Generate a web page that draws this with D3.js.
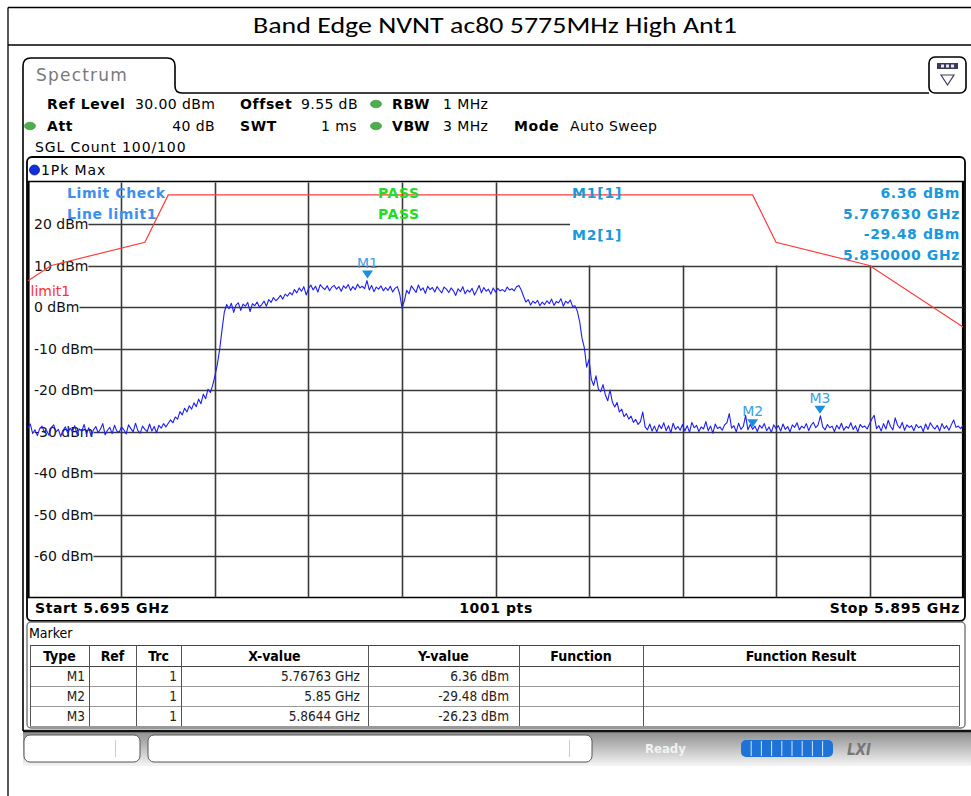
<!DOCTYPE html>
<html><head><meta charset="utf-8">
<script src="https://cdn.jsdelivr.net/npm/d3@7"></script>
<style>
html,body{margin:0;padding:0;background:#fff;}
svg{display:block;}
text{font-family:"DejaVu Sans",Verdana,sans-serif;}
</style></head><body>
<svg id="c" width="971" height="796"></svg>
<script>
// ---------------- DATA ----------------
const titleText = "Band Edge NVNT ac80 5775MHz High Ant1";
const freqStartGHz = 5.695, freqStopGHz = 5.895;
const yMinDbm = -70, yMaxDbm = 30;
const yTickDbm = [20, 10, 0, -10, -20, -30, -40, -50, -60];
const xGridCount = 10;
// Trace: 401 points, 0.5 MHz apart
const traceDbm = [
-29.1,-28.2,-30.5,-29.6,-31.0,-29.3,-28.7,-30.2,-29.8,-30.9,-29.0,-28.4,-30.1,-29.5,-31.2,-29.7,-28.9,-30.4,-29.2,-30.0,
-28.6,-30.7,-29.4,-29.9,-28.3,-30.6,-29.1,-31.1,-29.6,-28.8,-30.3,-29.4,-28.1,-30.8,-29.7,-29.0,-30.5,-28.5,-29.9,-30.2,
-28.9,-29.6,-30.6,-28.4,-29.3,-30.1,-28.0,-29.8,-30.4,-28.7,-29.5,-30.0,-28.2,-29.9,-28.8,-30.3,-28.5,-29.2,-28.1,-28.9,
-28.0,-27.2,-27.9,-26.5,-27.0,-25.2,-26.0,-24.4,-25.3,-23.8,-24.6,-23.1,-24.0,-22.2,-23.3,-21.0,-22.1,-19.8,-20.6,-18.9,
-16.5,-13.8,-10.2,-5.5,-1.2,0.6,-0.4,0.9,-1.3,0.5,1.0,-0.8,0.7,0.2,1.1,-1.1,0.8,0.3,1.2,0.0,
0.6,1.4,0.2,1.8,1.1,2.3,1.5,2.0,2.8,1.9,3.1,2.6,3.5,2.9,4.2,3.4,4.6,3.8,4.9,2.9,
4.4,5.3,4.1,5.0,3.6,5.4,4.7,4.2,5.1,3.9,4.8,5.2,4.3,4.9,3.8,5.1,4.5,5.4,4.0,4.9,
4.2,5.5,4.6,5.0,4.4,6.36,4.1,5.2,3.7,4.8,4.3,5.1,3.9,4.7,4.0,5.0,3.6,4.5,4.9,3.2,
-0.2,1.5,4.0,3.2,5.1,4.3,3.5,5.3,4.0,4.6,3.3,5.0,4.2,4.7,3.6,4.9,4.1,3.4,4.8,4.3,
3.5,4.6,3.9,2.8,4.4,3.7,4.9,3.2,4.1,3.6,4.5,2.9,4.0,5.2,3.4,4.7,3.8,4.3,3.1,4.6,
3.6,4.5,3.9,4.2,3.7,4.8,4.1,4.4,3.9,4.9,5.2,4.1,2.6,1.2,1.8,0.5,1.4,0.9,1.6,0.3,
1.2,0.6,1.5,0.8,1.9,0.4,1.3,1.0,2.0,0.2,1.4,0.9,1.7,0.1,0.3,-1.0,-3.5,-7.5,-9.8,-14.5,
-12.6,-17.4,-18.9,-16.6,-19.8,-20.4,-18.7,-21.2,-22.6,-20.0,-22.9,-24.1,-23.0,-25.3,-24.6,-26.4,-25.7,-27.0,-26.3,-27.8,
-27.1,-28.3,-27.6,-25.3,-28.9,-29.6,-28.2,-29.9,-28.7,-30.1,-28.4,-29.3,-27.9,-29.8,-28.6,-30.3,-28.0,-29.5,-28.8,-29.7,
-28.3,-29.9,-28.6,-30.2,-27.8,-29.1,-28.5,-30.0,-28.9,-29.4,-27.6,-29.8,-28.7,-30.4,-28.2,-29.3,-28.9,-29.7,-28.4,-27.9,
-25.7,-29.2,-28.6,-30.1,-28.0,-29.5,-28.8,-26.1,-29.6,-28.3,-29.48,-28.7,-30.0,-28.5,-29.2,-28.1,-29.8,-28.9,-30.2,-28.4,
-29.3,-28.6,-29.9,-28.2,-29.5,-28.8,-30.1,-28.4,-29.0,-27.9,-29.6,-28.7,-29.2,-28.1,-29.8,-28.5,-27.8,-29.1,-28.4,-26.23,
-28.9,-29.6,-28.3,-29.1,-28.7,-30.0,-28.5,-29.4,-28.0,-29.7,-28.8,-29.2,-27.9,-29.5,-28.6,-30.1,-28.3,-29.0,-28.7,-29.4,
-28.2,-27.0,-26.1,-29.3,-28.6,-29.9,-28.1,-29.4,-27.3,-28.8,-29.6,-26.7,-28.5,-29.2,-27.8,-29.7,-28.4,-29.0,-28.6,-29.8,
-28.3,-29.1,-28.7,-30.0,-28.2,-29.5,-27.9,-28.8,-29.4,-28.5,-29.9,-28.1,-29.3,-28.6,-29.7,-28.4,-27.2,-29.0,-28.7,-29.3,
-28.5
];
// Limit line "limit1"
const limitFreqGHz = [5.695, 5.700, 5.720, 5.725, 5.850, 5.855, 5.875, 5.895];
const limitDbm     = [6.3, 10.0, 15.6, 27.0, 27.0, 15.6, 10.0, -4.8];
// Markers
const markerNames   = ["M1", "M2", "M3"];
const markerFreqGHz = [5.76763, 5.85, 5.8644];
const markerDbm     = [6.36, -29.48, -26.23];
const markerXText   = ["5.76763 GHz", "5.85 GHz", "5.8644 GHz"];
const markerYText   = ["6.36 dBm", "-29.48 dBm", "-26.23 dBm"];
const markerTrc     = ["1", "1", "1"];
const tableHeaders  = ["Type", "Ref", "Trc", "X-value", "Y-value", "Function", "Function Result"];
const infoRight     = ["6.36 dBm", "5.767630 GHz", "-29.48 dBm", "5.850000 GHz"];

// ---------------- DRAW ----------------
const svg = d3.select("#c");
const x = d3.scaleLinear().domain([freqStartGHz, freqStopGHz]).range([28, 963]);
const y = d3.scaleLinear().domain([yMinDbm, yMaxDbm]).range([597.5, 182.5]);
const nPts = traceDbm.length;
const traceFreq = traceDbm.map((d, i) => freqStartGHz + i * (freqStopGHz - freqStartGHz) / (nPts - 1));

function txt(g, xx, yy, s, o = {}) {
  const t = g.append("text").attr("x", xx).attr("y", yy).text(s)
    .attr("font-size", o.size || 14)
    .attr("fill", o.fill || "#000");
  if (o.weight) t.attr("font-weight", o.weight);
  if (o.anchor) t.attr("text-anchor", o.anchor);
  if (o.family) t.style("font-family", o.family);
  if (o.ls !== undefined) t.style("letter-spacing", o.ls + "px");
  return t;
}

// page frame + title
svg.append("line").attr("x1", 8).attr("y1", 7.5).attr("x2", 971).attr("y2", 7.5).attr("stroke", "#000").attr("stroke-width", 1.3);
svg.append("line").attr("x1", 8).attr("y1", 45).attr("x2", 971).attr("y2", 45).attr("stroke", "#000").attr("stroke-width", 1.3);
svg.append("line").attr("x1", 8).attr("y1", 7.5).attr("x2", 8).attr("y2", 796).attr("stroke", "#000").attr("stroke-width", 1.3);
txt(svg, 495, 33, titleText, {size: 22, anchor: "middle", family: "Carlito, Calibri, Lato, 'Open Sans', sans-serif"})
  .attr("textLength", 484).attr("lengthAdjust", "spacingAndGlyphs");

// Spectrum tab / panel border
svg.append("path").attr("d", "M23,731 L23,66 Q23,58 31,58 L167,58 Q175,58 175,66 L175,86 Q175,93 182,93 L929,93")
  .attr("fill", "none").attr("stroke", "#000").attr("stroke-width", 1.6);
txt(svg, 36, 81, "Spectrum", {size: 17, fill: "#7a7a7a", ls: 1.2});

// icon box
svg.append("rect").attr("x", 929).attr("y", 57).attr("width", 37).attr("height", 36).attr("rx", 6)
  .attr("fill", "#fff").attr("stroke", "#000").attr("stroke-width", 1.6);
svg.append("rect").attr("x", 937).attr("y", 63).attr("width", 21).attr("height", 6).attr("fill", "#3a3a5a");
[941, 946, 951].forEach(xx => svg.append("rect").attr("x", xx).attr("y", 64.5).attr("width", 3).attr("height", 3).attr("fill", "#e8e8f0"));
svg.append("path").attr("d", "M941,75 L954,75 L947.5,85 Z").attr("fill", "none").attr("stroke", "#3a3a5a").attr("stroke-width", 1.2);

// header settings
const hdr = svg.append("g");
function dot(cx, cy) {
  hdr.append("ellipse").attr("cx", cx).attr("cy", cy).attr("rx", 5.5).attr("ry", 3.8).attr("fill", "#4cae4c").attr("stroke", "#3a8a3a").attr("stroke-width", 0.6);
}
txt(hdr, 47, 109, "Ref Level", {weight: "bold", ls: 0.6});
txt(hdr, 135, 109, "30.00 dBm", {ls: 0.4});
txt(hdr, 240, 109, "Offset", {weight: "bold", ls: 0.6});
txt(hdr, 301, 109, "9.55 dB", {ls: 0.4});
dot(376, 104);
txt(hdr, 392, 109, "RBW", {weight: "bold", ls: 0.6});
txt(hdr, 443, 109, "1 MHz", {ls: 0.4});
dot(30, 126);
txt(hdr, 47, 131, "Att", {weight: "bold", ls: 0.6});
txt(hdr, 215, 131, "40 dB", {anchor: "end", ls: 0.4});
txt(hdr, 240, 131, "SWT", {weight: "bold", ls: 0.6});
txt(hdr, 357, 131, "1 ms", {anchor: "end", ls: 0.4});
dot(376, 126);
txt(hdr, 392, 131, "VBW", {weight: "bold", ls: 0.6});
txt(hdr, 443, 131, "3 MHz", {ls: 0.4});
txt(hdr, 514, 131, "Mode", {weight: "bold", ls: 0.6});
txt(hdr, 570, 131, "Auto Sweep", {ls: 0.4});
txt(hdr, 35, 152, "SGL Count 100/100", {ls: 0.9});

// plot frame
svg.append("rect").attr("x", 27).attr("y", 157).attr("width", 938).attr("height", 464).attr("rx", 5)
  .attr("fill", "none").attr("stroke", "#000").attr("stroke-width", 1.8);
svg.append("line").attr("x1", 27).attr("y1", 181.5).attr("x2", 965).attr("y2", 181.5).attr("stroke", "#000").attr("stroke-width", 1.5);
svg.append("line").attr("x1", 27).attr("y1", 597.5).attr("x2", 965).attr("y2", 597.5).attr("stroke", "#000").attr("stroke-width", 1.5);
svg.append("line").attr("x1", 28.5).attr("y1", 181).attr("x2", 28.5).attr("y2", 598).attr("stroke", "#000").attr("stroke-width", 2.2);
svg.append("line").attr("x1", 963).attr("y1", 181).attr("x2", 963).attr("y2", 598).attr("stroke", "#000").attr("stroke-width", 2.2);
svg.append("circle").attr("cx", 34.5).attr("cy", 170).attr("r", 5).attr("fill", "#1030e0").attr("stroke", "#0a1a80").attr("stroke-width", 0.8);
txt(svg, 41, 175, "1Pk Max", {ls: 0.9});

// grid
const infoBoxX = 570;            // marker info box left edge (px)
const grid = svg.append("g");
const labels = svg.append("g");
for (let k = 1; k < xGridCount; k++) {
  const f = freqStartGHz + k * (freqStopGHz - freqStartGHz) / xGridCount;
  const gx = Math.round(x(f)) + 0.5;
  const yTop = gx > infoBoxX ? y(10) : y(yMaxDbm);
  grid.append("line").attr("x1", gx).attr("x2", gx).attr("y1", yTop).attr("y2", y(yMinDbm))
    .attr("stroke", "#3a3a3a").attr("stroke-width", 1.6);
}
yTickDbm.forEach(v => {
  const t = txt(labels, 34, y(v) + 5, v + " dBm", {fill: "#111"});
  const w = t.node().getComputedTextLength();
  const xEnd = v > 10 ? infoBoxX : x(freqStopGHz);
  grid.append("line").attr("x1", 34 + w).attr("x2", xEnd).attr("y1", Math.round(y(v)) + 0.5).attr("y2", Math.round(y(v)) + 0.5)
    .attr("stroke", "#3a3a3a").attr("stroke-width", 1.6);
});

// limit line
svg.append("path").datum(limitFreqGHz.map((f, i) => [f, limitDbm[i]]))
  .attr("d", d3.line().x(d => x(d[0])).y(d => y(d[1])))
  .attr("fill", "none").attr("stroke", "#ff3b3b").attr("stroke-width", 1.2);
txt(svg, 30.5, 296, "limit1", {fill: "#ff3030", size: 14});

// info texts
const infoBlue = "#3d8ef0", infoCyan = "#1a98dc";
txt(svg, 67, 198, "Limit Check", {weight: "bold", fill: infoBlue, ls: 0.6});
txt(svg, 67, 219, "Line limit1", {weight: "bold", fill: infoBlue, ls: 0.6});
txt(svg, 378, 198, "PASS", {weight: "bold", fill: "#22dd22", ls: 0.6});
txt(svg, 378, 219, "PASS", {weight: "bold", fill: "#22dd22", ls: 0.6});
txt(svg, 572, 198, "M1[1]", {weight: "bold", fill: infoCyan, ls: 0.8});
txt(svg, 572, 240, "M2[1]", {weight: "bold", fill: infoCyan, ls: 0.8});
infoRight.forEach((s, i) => txt(svg, 960, 198 + i * 20.7, s, {weight: "bold", fill: infoCyan, anchor: "end", ls: 0.6}));

// trace
svg.append("path").datum(traceDbm.map((d, i) => [traceFreq[i], d]))
  .attr("d", d3.line().x(d => x(d[0])).y(d => y(d[1])))
  .attr("fill", "none").attr("stroke", "#1e1ef5").attr("stroke-width", 1.1).attr("stroke-linejoin", "round");

// markers
markerNames.forEach((m, i) => {
  const mx = x(markerFreqGHz[i]), my = y(markerDbm[i]);
  const tip = my - 2;
  svg.append("path").attr("d", `M${mx - 5.5},${tip - 8} L${mx + 5.5},${tip - 8} L${mx},${tip} Z`).attr("fill", "#1a90d8");
  txt(svg, mx, tip - 11, m, {fill: "#3aa0e6", anchor: "middle", size: 14});
});

// bottom row of plot
txt(svg, 35, 613, "Start 5.695 GHz", {weight: "bold", ls: 0.6});
txt(svg, 496, 613, "1001 pts", {weight: "bold", anchor: "middle", ls: 0.6});
txt(svg, 960, 613, "Stop 5.895 GHz", {weight: "bold", anchor: "end", ls: 0.6});

// marker table
const tb = svg.append("g");
tb.append("rect").attr("x", 27).attr("y", 622).attr("width", 938).attr("height", 106).attr("rx", 4)
  .attr("fill", "#fff").attr("stroke", "#777").attr("stroke-width", 1.4);
const tFont = "'DejaVu Sans Condensed','DejaVu Sans',sans-serif";
txt(tb, 29, 638, "Marker", {family: tFont, size: 14});
const colX = [30, 89, 136, 181, 368, 519, 643, 959];
const rowY = [645, 666, 686, 706, 726];
rowY.forEach((ry, i) => tb.append("line").attr("x1", 30).attr("x2", 959).attr("y1", ry + 0.5).attr("y2", ry + 0.5)
  .attr("stroke", i <= 1 ? "#444" : "#999").attr("stroke-width", 1));
colX.forEach(cx => tb.append("line").attr("x1", cx + 0.5).attr("x2", cx + 0.5).attr("y1", 645).attr("y2", 726)
  .attr("stroke", "#555").attr("stroke-width", 1));
tableHeaders.forEach((h, j) => txt(tb, (colX[j] + colX[j + 1]) / 2, 661, h, {family: tFont, weight: "bold", anchor: "middle", size: 14}));
markerNames.forEach((m, i) => {
  const by = rowY[i + 1] + 15;
  txt(tb, colX[1] - 4, by, m, {family: tFont, anchor: "end", size: 13.5, fill: "#222"});
  txt(tb, colX[3] - 4, by, markerTrc[i], {family: tFont, anchor: "end", size: 13.5, fill: "#222"});
  txt(tb, colX[4] - 8, by, markerXText[i], {family: tFont, anchor: "end", size: 13.5, fill: "#222"});
  txt(tb, colX[5] - 10, by, markerYText[i], {family: tFont, anchor: "end", size: 13.5, fill: "#222"});
});

// status bar
const defs = svg.append("defs");
const lg = defs.append("linearGradient").attr("id", "sb").attr("x1", 0).attr("y1", 0).attr("x2", 0).attr("y2", 1);
lg.append("stop").attr("offset", "0%").attr("stop-color", "#8c8c8c");
lg.append("stop").attr("offset", "100%").attr("stop-color", "#f5f5f5");
svg.append("rect").attr("x", 23).attr("y", 731).attr("width", 948).attr("height", 35).attr("fill", "url(#sb)");
svg.append("line").attr("x1", 23).attr("x2", 971).attr("y1", 731).attr("y2", 731).attr("stroke", "#111").attr("stroke-width", 2.5);
svg.append("rect").attr("x", 24).attr("y", 735).attr("width", 116).attr("height", 27).attr("rx", 6).attr("fill", "#fff").attr("stroke", "#555");
svg.append("line").attr("x1", 115.5).attr("x2", 115.5).attr("y1", 740).attr("y2", 757).attr("stroke", "#ccc");
svg.append("rect").attr("x", 148).attr("y", 735).attr("width", 444).attr("height", 27).attr("rx", 6).attr("fill", "#fff").attr("stroke", "#555");
svg.append("line").attr("x1", 569.5).attr("x2", 569.5).attr("y1", 740).attr("y2", 757).attr("stroke", "#ccc");
txt(svg, 645, 753, "Ready", {fill: "#f2f2f2", weight: "bold", size: 13, family: tFont});
svg.append("rect").attr("x", 741).attr("y", 740).attr("width", 92).attr("height", 17).attr("rx", 5).attr("fill", "#1f72d6");
d3.range(1, 9).forEach(k => svg.append("line").attr("x1", 741 + k * 10.2).attr("x2", 741 + k * 10.2).attr("y1", 741).attr("y2", 756).attr("stroke", "#d8e8ff").attr("stroke-width", 1));
txt(svg, 847, 755, "LXI", {fill: "#777", weight: "bold", size: 15, family: tFont}).attr("font-style", "italic");
</script>
</body></html>
